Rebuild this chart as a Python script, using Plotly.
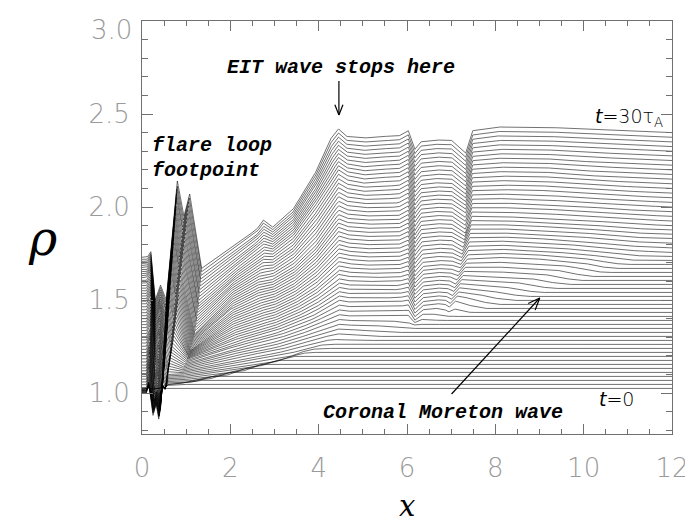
import numpy as np
import plotly.graph_objects as go

# ---------------- data ----------------
N_LINES = 61            # t = 0 ... 30 tau_A, every 0.5 tau_A
DY = 0.0215             # vertical stacking offset between successive lines
RHO_BASE = 1.025        # level of the t = 0 line

KEY_LINES = [0, 10, 20, 30, 40, 50, 60]   # lines

# control points (x, plotted value) of the traced lines
X_K00 = [0, 0.10, 0.15, 0.25, 0.32, 0.38, 0.46, 0.52, 0.58, 0.85, 2.0, 2.6, 2.75, 2.95, 3.4, 3.9, 4.25,
         4.45, 4.62, 5.0, 5.4, 5.8, 6.03, 6.18, 6.3, 6.55, 6.8, 6.9, 7.0, 8.0, 9.0, 10.0, 11.0, 12.0]
Y_K00 = [1.025] * 34

X_K10 = [0, 0.10, 0.15, 0.25, 0.32, 0.38, 0.46, 0.52, 0.58, 0.85, 2.0, 2.6, 2.75, 2.95, 3.4, 3.9, 4.25,
         4.45, 4.62, 5.0, 5.4, 5.8, 6.03, 6.18, 6.3, 6.55, 6.8, 6.9, 7.0, 8.0, 9.0, 10.0, 11.0, 12.0]
Y_K10 = [1.00, 1.00, 1.06, 0.88, 0.94, 0.86, 1.05, 1.02, 1.10, 1.10, 1.146, 1.17, 1.175, 1.18, 1.20, 1.23, 1.24,
         1.24, 1.24, 1.24, 1.24, 1.24, 1.24, 1.24, 1.24, 1.24, 1.24, 1.24, 1.24, 1.24, 1.24, 1.24, 1.24, 1.24]

X_K20 = [0, 0.10, 0.17, 0.27, 0.35, 0.42, 0.52, 0.60, 0.68, 1.00, 2.0, 2.6, 2.75, 2.95, 3.4, 3.9, 4.25,
         4.45, 4.62, 5.0, 5.4, 5.8, 6.03, 6.18, 6.35, 6.6, 6.85, 6.95, 7.1, 8.0, 9.0, 10.0, 11.0, 12.0]
Y_K20 = [1.15, 1.15, 1.22, 0.96, 1.03, 0.92, 1.22, 1.15, 1.25, 1.18, 1.267, 1.31, 1.32, 1.33, 1.37, 1.42, 1.47,
         1.50, 1.49, 1.49, 1.49, 1.49, 1.50, 1.43, 1.47, 1.48, 1.48, 1.46, 1.50, 1.47, 1.455, 1.455, 1.455, 1.455]

X_K30 = [0, 0.10, 0.19, 0.29, 0.37, 0.45, 0.60, 0.69, 0.79, 1.10, 2.0, 2.6, 2.75, 2.95, 3.4, 3.9, 4.25,
         4.45, 4.62, 5.0, 5.4, 5.8, 6.03, 6.18, 6.35, 6.65, 7.0, 7.2, 7.35, 8.0, 9.0, 10.0, 11.0, 12.0]
Y_K30 = [1.32, 1.32, 1.37, 1.10, 1.17, 1.05, 1.45, 1.35, 1.45, 1.23, 1.39, 1.45, 1.46, 1.47, 1.52, 1.60, 1.68,
         1.73, 1.72, 1.71, 1.71, 1.71, 1.73, 1.63, 1.68, 1.69, 1.69, 1.67, 1.72, 1.73, 1.72, 1.70, 1.67, 1.67]

X_K40 = [0, 0.10, 0.20, 0.30, 0.39, 0.48, 0.67, 0.77, 0.88, 1.20, 2.0, 2.6, 2.75, 2.95, 3.4, 3.9, 4.25,
         4.45, 4.62, 5.0, 5.4, 5.8, 6.03, 6.18, 6.3, 6.6, 7.0, 7.32, 7.46, 8.0, 9.0, 10.0, 11.0, 12.0]
Y_K40 = [1.48, 1.48, 1.53, 1.25, 1.32, 1.20, 1.70, 1.55, 1.65, 1.32, 1.51, 1.595, 1.60, 1.61, 1.67, 1.78, 1.90,
         1.96, 1.94, 1.93, 1.93, 1.93, 1.96, 1.85, 1.90, 1.91, 1.91, 1.86, 1.95, 1.95, 1.94, 1.93, 1.91, 1.90]

X_K50 = [0, 0.10, 0.20, 0.30, 0.41, 0.52, 0.74, 0.86, 0.98, 1.28, 2.0, 2.6, 2.75, 2.95, 3.4, 3.9, 4.25,
         4.45, 4.62, 5.0, 5.4, 5.8, 6.03, 6.18, 6.3, 6.6, 7.0, 7.33, 7.47, 8.0, 9.0, 10.0, 11.0, 12.0]
Y_K50 = [1.62, 1.62, 1.66, 1.38, 1.46, 1.35, 1.93, 1.75, 1.86, 1.48, 1.63, 1.74, 1.77, 1.76, 1.84, 2.00, 2.13,
         2.20, 2.17, 2.15, 2.16, 2.16, 2.19, 2.08, 2.12, 2.13, 2.13, 2.07, 2.18, 2.19, 2.19, 2.17, 2.16, 2.15]

X_K60 = [0, 0.12, 0.20, 0.30, 0.42, 0.55, 0.80, 0.95, 1.08, 1.35, 2.0, 2.6, 2.75, 2.95, 3.4, 3.9, 4.25,
         4.45, 4.62, 5.0, 5.4, 5.8, 6.03, 6.18, 6.3, 6.6, 7.0, 7.33, 7.48, 8.0, 9.0, 10.0, 11.0, 12.0]
Y_K60 = [1.73, 1.73, 1.76, 1.50, 1.58, 1.50, 2.14, 1.95, 2.07, 1.67, 1.78, 1.88, 1.93, 1.89, 1.98, 2.17, 2.36,
         2.42, 2.38, 2.37, 2.38, 2.38, 2.41, 2.31, 2.35, 2.36, 2.36, 2.29, 2.41, 2.43, 2.43, 2.42, 2.41, 2.40]

# position of the fast-mode (Moreton) front on the traced lines
FAST_FRONT_X = [0.5, 4.2, 7.8, 10.8, 13.8, 16.0, 18.0]

X_TICKS = [0, 2, 4, 6, 8, 10, 12]
Y_TICKS = [1.0, 1.5, 2.0, 2.5]
Y_TICK_TEXT = ["1.0", "1.5", "2.0", "2.5"]

# ---------------- build the stacked lines ----------------
key_x = np.array([X_K00, X_K10, X_K20, X_K30, X_K40, X_K50, X_K60], dtype=float)
key_y = np.array([Y_K00, Y_K10, Y_K20, Y_K30, Y_K40, Y_K50, Y_K60], dtype=float)
key_lines = np.array(KEY_LINES, dtype=float)
key_d = key_y - (RHO_BASE + DY * key_lines)[:, None]

grid = np.linspace(0, 12, 1201)
xs, ys = [], []
for k in range(N_LINES):
    j = int(min(np.searchsorted(key_lines, k, side="right") - 1, len(key_lines) - 2))
    f = (k - key_lines[j]) / (key_lines[j + 1] - key_lines[j])
    cx = (1 - f) * key_x[j] + f * key_x[j + 1]
    cd = (1 - f) * key_d[j] + f * key_d[j + 1]
    d = np.interp(grid, cx, cd)
    xf = np.interp(k, key_lines, FAST_FRONT_X)
    m = np.clip((xf - grid) / 0.8, 0, 1)
    y = RHO_BASE + DY * k + d * m
    xs.extend(grid.tolist() + [None])
    ys.extend(y.tolist() + [None])

fig = go.Figure()
fig.add_trace(go.Scatter(x=xs, y=ys, mode="lines",
                         line=dict(color="rgba(0,0,0,0.8)", width=0.7),
                         hoverinfo="skip", showlegend=False))

# ---------------- layout ----------------
L, R, T, B = 134, 675, 13, 426
X0, X1, Y0, Y1 = 0.0, 12.0, 0.78, 3.0


def px2d(px, py):
    return (X0 + (px - L) / (R - L) * (X1 - X0), Y1 - (py - T) / (B - T) * (Y1 - Y0))


def px2p(px, py):
    return ((px - L) / (R - L), (B - py) / (B - T))


axis_col = "#707070"
tick_font = dict(family="DejaVu Sans", size=26, color="#9a9a9a", weight=200)

fig.update_xaxes(range=[X0, X1], tickvals=X_TICKS, ticks="inside", ticklen=10, tickcolor=axis_col,
                 showline=True, linecolor=axis_col, linewidth=1, mirror="allticks",
                 minor=dict(dtick=0.5, tick0=0, ticks="inside", ticklen=5, tickcolor=axis_col),
                 tickfont=tick_font, ticklabelstandoff=11, showgrid=False, zeroline=False)
fig.update_yaxes(range=[Y0, Y1], tickvals=Y_TICKS, ticktext=Y_TICK_TEXT, ticks="inside", ticklen=11,
                 tickcolor=axis_col, showline=True, linecolor=axis_col, linewidth=1, mirror="allticks",
                 minor=dict(dtick=0.1, tick0=0, ticks="inside", ticklen=6, tickcolor=axis_col),
                 tickfont=tick_font, ticklabelstandoff=6, showgrid=False, zeroline=False)

annots = []
label_font = dict(family="Liberation Mono", size=20, color="black")
ex, ey = px2d(337, 59)
annots.append(dict(x=ex, y=ey, text="<b><i>EIT wave stops here</i></b>", showarrow=False,
                   font=label_font, xanchor="center", yanchor="middle"))
fx, fy = px2d(142, 137)
annots.append(dict(x=fx, y=fy, text="<b><i>flare loop</i></b>", showarrow=False,
                   font=label_font, xanchor="left", yanchor="middle"))
fx, fy = px2d(142, 162)
annots.append(dict(x=fx, y=fy, text="<b><i>footpoint</i></b>", showarrow=False,
                   font=label_font, xanchor="left", yanchor="middle"))
cx_, cy_ = px2d(441, 404)
annots.append(dict(x=cx_, y=cy_, text="<b><i>Coronal Moreton wave</i></b>", showarrow=False,
                   font=label_font, xanchor="center", yanchor="middle"))
tx, ty = px2d(668, 109)
annots.append(dict(x=tx, y=ty, text="<i>t</i>=30τ<sub>A</sub>", showarrow=False,
                   font=dict(family="DejaVu Sans", size=19, color="black", weight=300),
                   xanchor="right", yanchor="middle"))
tx, ty = px2d(638, 391)
annots.append(dict(x=tx, y=ty, text="<i>t</i>=0", showarrow=False,
                   font=dict(family="DejaVu Sans", size=19, color="black", weight=300),
                   xanchor="right", yanchor="middle"))

p = px2p(126, 22)
annots.append(dict(x=p[0], y=p[1], xref="paper", yref="paper", text="3.0", showarrow=False,
                   font=tick_font, xanchor="right", yanchor="middle"))
p = px2p(32, 230)
annots.append(dict(x=p[0], y=p[1], xref="paper", yref="paper", text="<i>ρ</i>", showarrow=False,
                   font=dict(family="DejaVu Serif", size=48, color="black"), xanchor="center", yanchor="middle"))
p = px2p(404, 498)
annots.append(dict(x=p[0], y=p[1], xref="paper", yref="paper", text="<i>x</i>", showarrow=False,
                   font=dict(family="DejaVu Serif", size=29, color="black"), xanchor="center", yanchor="middle"))

shapes = []


def arrow(tail, tip, head=11, ang=22):
    t0 = np.array(tail, float)
    t1 = np.array(tip, float)
    v = t0 - t1
    v = v / np.hypot(*v)
    out = []
    a = np.deg2rad(ang)
    for s in (a, -a):
        rot = np.array([[np.cos(s), -np.sin(s)], [np.sin(s), np.cos(s)]])
        out.append(t1 + head * rot.dot(v))
    for p0, p1 in [(t0, t1), (t1, out[0]), (t1, out[1])]:
        a0 = px2d(*p0)
        a1 = px2d(*p1)
        shapes.append(dict(type="line", x0=a0[0], y0=a0[1], x1=a1[0], y1=a1[1], xref="x", yref="y",
                           line=dict(color="black", width=1.2)))


arrow((335, 73), (335, 107))
arrow((450, 386), (540, 290), head=13)

fig.update_layout(width=693, height=523, margin=dict(l=L, r=693 - R, t=T, b=523 - B),
                  plot_bgcolor="white", paper_bgcolor="white", showlegend=False,
                  annotations=annots, shapes=shapes)

fig.write_html("out.html")
